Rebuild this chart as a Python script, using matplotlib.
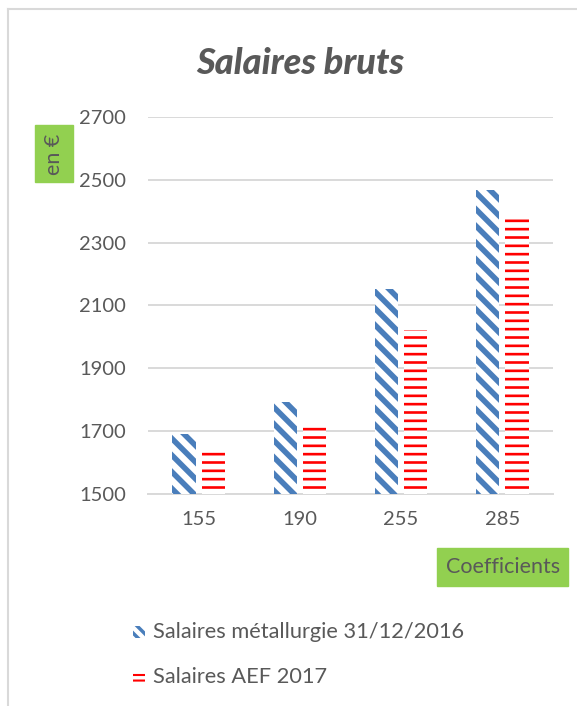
import matplotlib.pyplot as plt
import matplotlib as mpl
from matplotlib.patches import Rectangle
import numpy as np

# Data
categories = ["155", "190", "255", "285"]
salaires_metallurgie = [1692, 1792, 2152, 2467]
salaires_aef = [1643, 1718, 2022, 2378]
yticks = [1500, 1700, 1900, 2100, 2300, 2500, 2700]

grey_text = "#595959"
grid_col = "#d9d9d9"
blue = "#4a7ebb"
red = "#ff0000"
green = "#92d050"

plt.rcParams['font.family'] = ['Lato', 'DejaVu Sans']

fig = plt.figure(figsize=(5.77, 7.06), dpi=100)
ax = fig.add_axes([148/577, 1 - 494/706, 405/577, 377/706])

x = np.arange(len(categories))
w = 0.23

mpl.rcParams['hatch.linewidth'] = 4.0
b1 = ax.bar(x - 0.145, salaires_metallurgie, w, bottom=0, color="white",
            edgecolor=blue, linewidth=0, hatch="\\\\", zorder=3)
mpl.rcParams['hatch.linewidth'] = 1.9
b2 = ax.bar(x + 0.145, salaires_aef, w, bottom=0, color="white",
            edgecolor=red, linewidth=0, hatch="--", zorder=3)

ax.set_ylim(1500, 2700)
ax.set_xlim(-0.5, 3.5)
ax.set_yticks(yticks)
ax.set_xticks(x)
ax.set_xticklabels(categories)
ax.tick_params(axis="both", length=0, labelsize=14.5, colors=grey_text)
ax.tick_params(axis="y", pad=16)
ax.tick_params(axis="x", pad=12)
ax.grid(axis="y", color=grid_col, linewidth=1.4, zorder=0)
for s in ["top", "right", "left"]:
    ax.spines[s].set_visible(False)
ax.spines["bottom"].set_color(grid_col)
ax.spines["bottom"].set_linewidth(1.4)

# Title
fig.text(300/577, 1 - 63/706, "Salaires bruts", ha="center", va="center",
         fontsize=26, fontweight="black", fontstyle="italic", color=grey_text)

# y label box
fig.patches.append(Rectangle((35/577, 1 - 182/706), 38/577, 57/706,
                             transform=fig.transFigure, color=green, zorder=1))
fig.text(54/577, 1 - 154/706, "en €", rotation=90, ha="center", va="center",
         fontsize=15.5, color=grey_text, zorder=2)

# x label box
fig.patches.append(Rectangle((437/577, 1 - 586/706), 131/577, 38/706,
                             transform=fig.transFigure, color=green, zorder=1))
fig.text(503/577, 1 - 567/706, "Coefficients", ha="center", va="center",
         fontsize=15.5, color=grey_text, zorder=2)

# legend
mpl.rcParams['hatch.linewidth'] = 2.5
fig.patches.append(Rectangle((133/577, 1 - 638/706), 12/577, 12/706,
                             transform=fig.transFigure, facecolor="white",
                             edgecolor=blue, linewidth=0, hatch="\\\\\\"))
fig.text(153/577, 1 - 632/706, "Salaires métallurgie 31/12/2016", ha="left",
         va="center", fontsize=15.7, color=grey_text)
mpl.rcParams['hatch.linewidth'] = 1.5
fig.patches.append(Rectangle((133/577, 1 - 683/706), 12/577, 12/706,
                             transform=fig.transFigure, facecolor="white",
                             edgecolor=red, linewidth=0, hatch="---"))
fig.text(153/577, 1 - 677/706, "Salaires AEF 2017", ha="left",
         va="center", fontsize=15.7, color=grey_text)

# chart border
fig.add_artist(plt.Line2D([8/577, 8/577], [0, 1 - 9/706], transform=fig.transFigure,
                          color=grid_col, linewidth=1.5))
fig.add_artist(plt.Line2D([8/577, 1], [1 - 9/706, 1 - 9/706], transform=fig.transFigure,
                          color=grid_col, linewidth=1.5))

fig.savefig("out.png", dpi=100)
